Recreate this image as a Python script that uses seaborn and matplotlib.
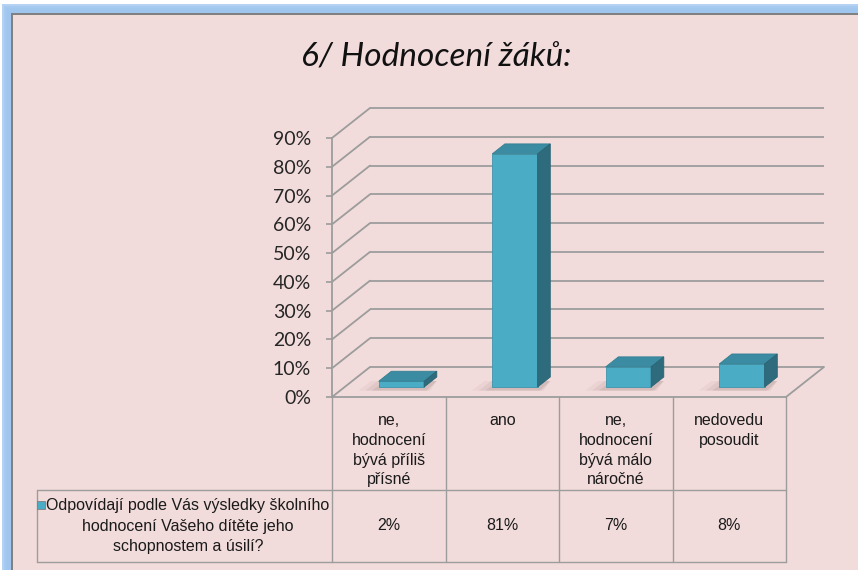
import matplotlib
matplotlib.use("Agg")
import matplotlib.pyplot as plt
import matplotlib.transforms as mtransforms
import seaborn as sns
import pandas as pd
import numpy as np
from matplotlib.patches import Rectangle, Polygon
from matplotlib.ticker import PercentFormatter, FixedLocator

# ---------------- data ----------------
title = "6/ Hodnocení žáků:"
categories = ["ne,\nhodnocení\nbývá příliš\npřísné",
              "ano",
              "ne,\nhodnocení\nbývá málo\nnáročné",
              "nedovedu\nposoudit"]
values = [0.02, 0.81, 0.07, 0.08]
value_labels = ["2%", "81%", "7%", "8%"]
series_name = ("Odpovídají podle Vás výsledky školního\n"
               "hodnocení Vašeho dítěte jeho\n"
               "schopnostem a úsilí?")
y_ticks = [0.0, 0.1, 0.2, 0.3, 0.4, 0.5, 0.6, 0.7, 0.8, 0.9]

# ---------------- style ----------------
sns.set_style("white")
plt.rcParams['font.family'] = ['Lato', 'DejaVu Sans']
TABLE_FONT = ['Liberation Sans', 'DejaVu Sans']

PINK = '#F2DCDB'
FRONT = '#4BACC6'
TOP = '#3B8CA2'
SIDE = '#2E6C7D'
GRID = '#9C9C9C'
TXT = '#1a1a1a'

W, H = 858, 570
fig = plt.figure(figsize=(W / 100, H / 100), dpi=100)
fig.patch.set_facecolor('white')


def fig_rect(x0, y0, x1, y1, **kw):
    r = Rectangle((x0 / W, 1 - y1 / H), (x1 - x0) / W, (y1 - y0) / H,
                  transform=fig.transFigure, zorder=-5, **kw)
    fig.patches.append(r)
    return r


# blue glow around the chart frame
for i, a in enumerate([0.15, 0.3, 0.45, 0.6, 0.75]):
    off = 10 - 2 * i
    fig_rect(off, off + 2, W + 20, H + 20, facecolor='#9CC4EE', alpha=a, edgecolor='none')
fig_rect(12, 14, W + 20, H + 20, facecolor=PINK, edgecolor='#7F7F7F', linewidth=1.4)

fig.text(436 / W, 1 - 58 / H, title, ha='center', va='center',
         fontsize=24, style='italic', color='#111111')

# ---------------- axes (front plane) ----------------
AX_L, AX_R, AX_T, AX_B = 332, 786, 138, 397
ax = fig.add_axes([AX_L / W, 1 - AX_B / H, (AX_R - AX_L) / W, (AX_B - AX_T) / H])
ax.set_facecolor('none')

df = pd.DataFrame({'cat': categories, 'val': values})
sns.barplot(data=df, x='cat', y='val', order=categories, width=0.4,
            color=FRONT, saturation=1, ax=ax, zorder=5,
            edgecolor='#3E95AC', linewidth=0.6)

ax.set_xlim(-0.5, len(categories) - 0.5)
ax.set_ylim(0, 0.9)

# depth offset (38 px right, 30 px up) in data units
inv = ax.transData.inverted()
o = ax.transData.transform((0, 0))
DX, DY = inv.transform(o + np.array([38, 30])) - inv.transform(o)

x_left, x_right = ax.get_xlim()
# back wall gridlines and side wall slants
for y in y_ticks:
    ax.plot([x_left + DX, x_right + DX], [y + DY, y + DY], color=GRID, lw=1.3,
            clip_on=False, zorder=1, solid_capstyle='butt')
    ax.plot([x_left, x_left + DX], [y, y + DY], color=GRID, lw=1.3,
            clip_on=False, zorder=1)
# floor right edge
ax.plot([x_right, x_right + DX], [0, DY], color=GRID, lw=1.3, clip_on=False, zorder=1)

# make bars 3D: shift front face to 1/3 depth, add top and side faces
f1, f2 = 1 / 3, 2 / 3
for p in list(ax.patches):
    x0, w, h = p.get_x(), p.get_width(), p.get_height()
    nx, ny = x0 + DX * f1, DY * f1
    p.set_xy((nx, ny))
    p.set_clip_on(False)
    top = ny + h
    ddx, ddy = DX * (f2 - f1), DY * (f2 - f1)
    # soft floor shadow
    for k, a in enumerate([0.05, 0.07, 0.09]):
        g = 0.06 * (3 - k)
        ax.add_patch(Polygon([(nx - g, ny - DY * 0.12), (nx + w + g * 0.3, ny - DY * 0.12),
                              (nx + w + ddx, ny + ddy * 0.6), (nx + ddx - g, ny + ddy * 0.6)],
                             closed=True, facecolor='#5a3a3a', alpha=a, lw=0,
                             clip_on=False, zorder=3))
    ax.add_patch(Polygon([(nx, top), (nx + w, top), (nx + w + ddx, top + ddy),
                          (nx + ddx, top + ddy)], closed=True, facecolor=TOP,
                         edgecolor='#357F93', lw=0.6, clip_on=False, zorder=6))
    ax.add_patch(Polygon([(nx + w, ny), (nx + w + ddx, ny + ddy),
                          (nx + w + ddx, top + ddy), (nx + w, top)], closed=True,
                         facecolor=SIDE, edgecolor='#2A6373', lw=0.6,
                         clip_on=False, zorder=6))

for s in ['top', 'right']:
    ax.spines[s].set_visible(False)
for s in ['left', 'bottom']:
    ax.spines[s].set_color(GRID)
    ax.spines[s].set_linewidth(1.3)
ax.yaxis.set_major_locator(FixedLocator(y_ticks))
ax.yaxis.set_major_formatter(PercentFormatter(1.0, decimals=0))
ax.tick_params(axis='y', left=True, length=4, width=1.2, color=GRID,
               pad=11, labelsize=14, labelcolor='#262626')
ax.tick_params(axis='x', bottom=False, labelbottom=False)
ax.set_xlabel('')
ax.set_ylabel('')

# ---------------- data table (drawn below the plot) ----------------
bt = mtransforms.blended_transform_factory(ax.transData, ax.transAxes)
ph = AX_B - AX_T
col_w_px = (AX_R - AX_L) / len(categories)
label_w = 295 / col_w_px                      # width of row-label column in category units
y_head_bot = -93 / ph                         # header row bottom (axes fraction)
y_row_bot = -165 / ph                         # data row bottom (axes fraction)
edges = [x_left + i for i in range(len(categories) + 1)]
lab_left = x_left - label_w

line_kw = dict(color=GRID, lw=1.0, clip_on=False, transform=bt, zorder=2)
# horizontal lines
ax.plot([lab_left, x_right], [y_head_bot, y_head_bot], **line_kw)
ax.plot([lab_left, x_right], [y_row_bot, y_row_bot], **line_kw)
# vertical lines
for e in edges:
    ax.plot([e, e], [0, y_row_bot], **line_kw)
ax.plot([lab_left, lab_left], [y_head_bot, y_row_bot], **line_kw)

txt_kw = dict(transform=bt, fontfamily=TABLE_FONT, fontsize=11.5, color=TXT,
              ha='center', clip_on=False, linespacing=1.4)
for i, c in enumerate(categories):
    ax.text(i, -16 / ph, c, va='top', **txt_kw)
y_mid = (y_head_bot + y_row_bot) / 2
for i, v in enumerate(value_labels):
    ax.text(i, y_mid, v, va='center', **txt_kw)
ax.text(lab_left + label_w / 2 + 0.03, y_mid, series_name, va='center',
        **{**txt_kw, 'linespacing': 1.45})

# legend key inside the row label cell
ax.plot([lab_left + 0.035], [(397 - 505) / ph], marker='s', markersize=6,
        color=FRONT, markeredgecolor='#7F7F7F', markeredgewidth=0.6,
        transform=bt, clip_on=False, zorder=10)

fig.savefig('out.png', dpi=100, facecolor=fig.get_facecolor())
